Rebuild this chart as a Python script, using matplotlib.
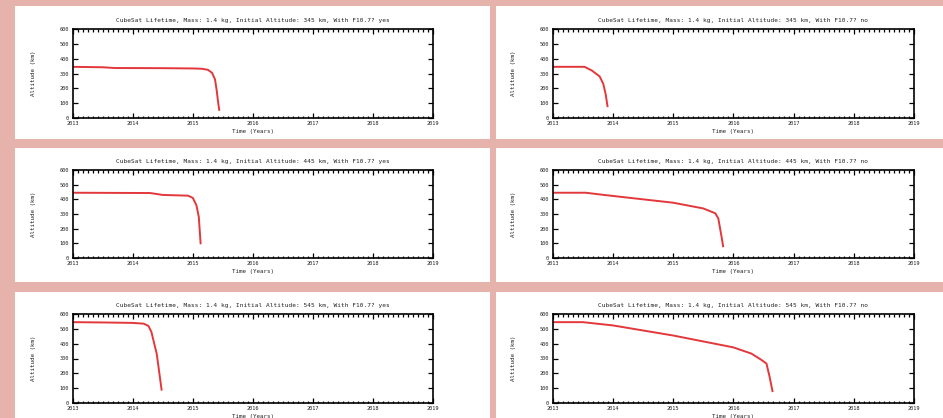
import numpy as np
import matplotlib
matplotlib.use('Agg')
import matplotlib.pyplot as plt
from matplotlib.patches import Rectangle
from matplotlib.ticker import MultipleLocator

W, H = 943, 418
BG = '#e5b3ab'

# 読み取ったデータ (年, 高度 km)
t_345_yes = [2013.0, 2013.5, 2013.7, 2014.5, 2015.0, 2015.15, 2015.25, 2015.32, 2015.37, 2015.40, 2015.42, 2015.44]
h_345_yes = [345, 342, 337, 336, 334, 332, 325, 305, 260, 180, 110, 55]

t_345_no = [2013.0, 2013.53, 2013.65, 2013.78, 2013.84, 2013.88, 2013.91]
h_345_no = [345, 345, 320, 280, 230, 160, 80]

t_445_yes = [2013.0, 2014.29, 2014.5, 2014.92, 2015.0, 2015.06, 2015.1, 2015.13]
h_445_yes = [445, 443, 430, 425, 410, 360, 280, 100]

t_445_no = [2013.0, 2013.55, 2013.75, 2014.0, 2014.5, 2015.0, 2015.5, 2015.7, 2015.75, 2015.8, 2015.83]
h_445_no = [445, 445, 435, 423, 400, 377, 338, 305, 270, 155, 80]

t_545_yes = [2013.0, 2013.5, 2014.0, 2014.18, 2014.26, 2014.31, 2014.4, 2014.48]
h_545_yes = [545, 543, 540, 535, 520, 480, 330, 90]

t_545_no = [2013.0, 2013.5, 2014.0, 2015.0, 2016.0, 2016.3, 2016.45, 2016.55, 2016.6, 2016.65]
h_545_no = [545, 545, 523, 455, 375, 333, 295, 266, 180, 80]

altitudes = [345, 445, 545]
f107 = ['yes', 'no']
series = [
    [(t_345_yes, h_345_yes), (t_345_no, h_345_no)],
    [(t_445_yes, h_445_yes), (t_445_no, h_445_no)],
    [(t_545_yes, h_545_yes), (t_545_no, h_545_no)],
]

# パネル位置 (ピクセル, 上から)
col_px = [(15, 490), (496, 943)]
row_px = [(6, 139), (148, 282), (292, 418)]
ax_x_px = [(72.7, 433), (552.7, 914)]
ax_y_px = [(29, 118), (170, 258), (314, 403)]

MONO = 'DejaVu Sans Mono'

fig = plt.figure(figsize=(W / 100, H / 100), dpi=100, facecolor=BG)

for r in range(3):
    for c in range(2):
        x0, x1 = col_px[c]
        y0, y1 = row_px[r]
        fig.patches.append(Rectangle((x0 / W, 1 - y1 / H), (x1 - x0) / W, (y1 - y0) / H,
                                     transform=fig.transFigure, facecolor='white',
                                     edgecolor='none', zorder=-5))

        ax0, ax1 = ax_x_px[c]
        ay0, ay1 = ax_y_px[r]
        ax = fig.add_axes([ax0 / W, 1 - ay1 / H, (ax1 - ax0) / W, (ay1 - ay0) / H])
        ax.set_zorder(1)
        t, h = series[r][c]
        ax.plot(t, h, color='#e3383b', lw=1.4)
        ax.set_xlim(2013, 2019)
        ax.set_ylim(0, 600)
        ax.set_xticks(range(2013, 2020))
        ax.set_yticks(range(0, 700, 100))
        ax.xaxis.set_minor_locator(MultipleLocator(1 / 12))
        ax.tick_params(which='both', direction='in', top=True, right=True,
                       labelsize=3.8, pad=2.5, width=0.9, labelcolor='#222222')
        ax.tick_params(which='major', length=3.5)
        ax.tick_params(which='minor', length=1.8)
        for lab in ax.get_xticklabels() + ax.get_yticklabels():
            lab.set_family(MONO)
        for s in ax.spines.values():
            s.set_linewidth(1.2)
        ax.set_title('CubeSat Lifetime, Mass: 1.4 kg, Initial Altitude: %d km, With F10.7? %s'
                     % (altitudes[r], f107[c]), fontsize=4.4, family=MONO, pad=5,
                     color='#222222')
        ax.set_xlabel('Time (Years)', fontsize=4.2, family=MONO, labelpad=2, color='#222222')
        ax.set_ylabel('Altitude (km)', fontsize=4.2, family=MONO, labelpad=17, color='#222222')

fig.savefig('out.png', dpi=100, facecolor=BG)
